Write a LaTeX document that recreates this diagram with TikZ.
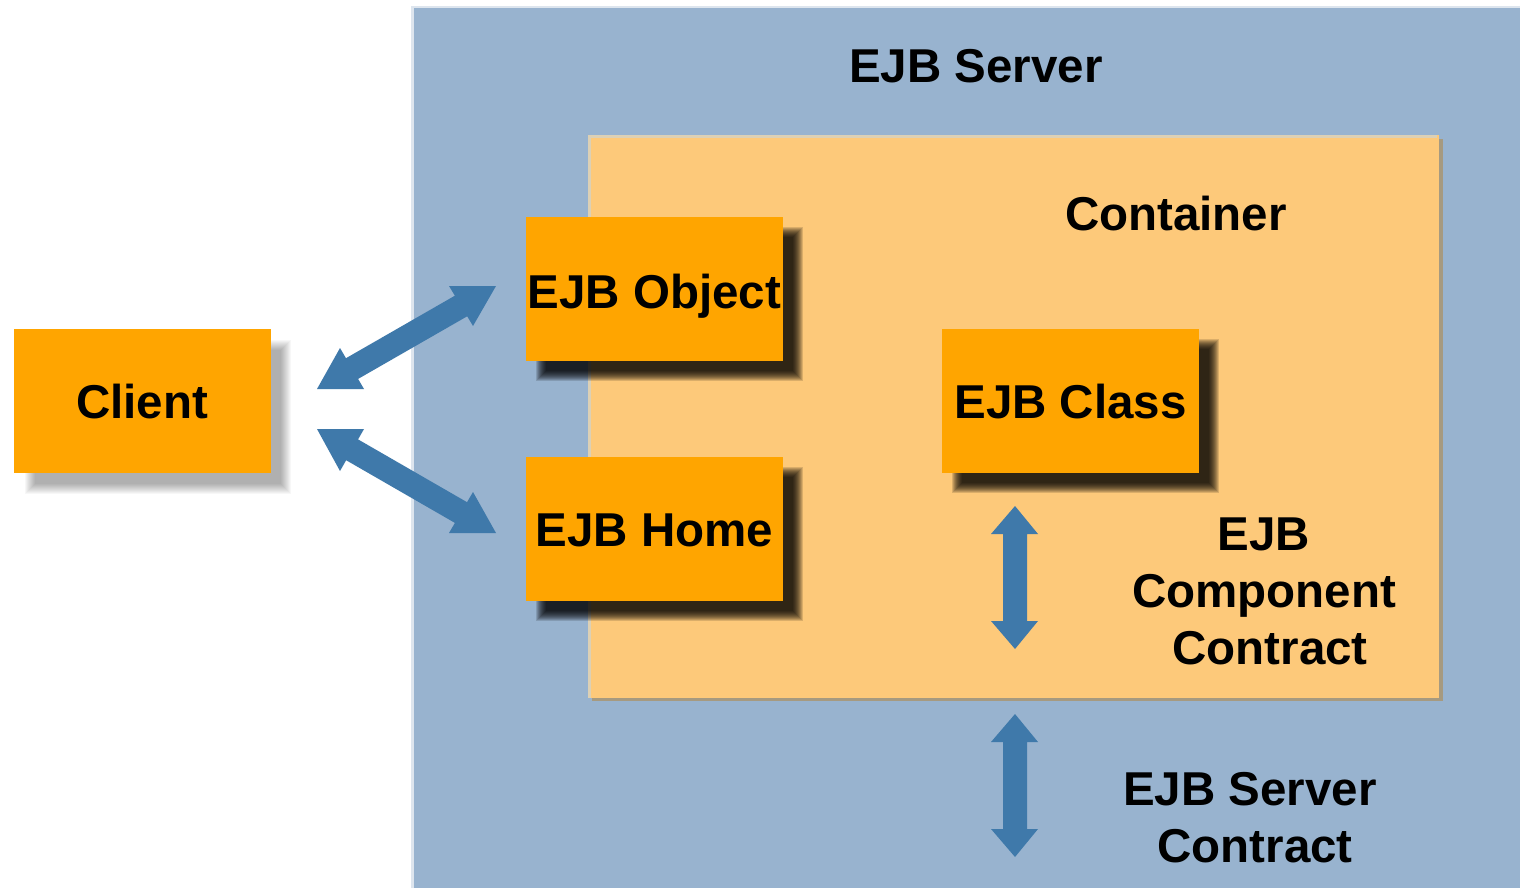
\documentclass[tikz,border=0pt]{standalone}
\usepackage{fontspec}
\setmainfont{Liberation Sans}
\definecolor{srvfill}{HTML}{98B3CF}
\definecolor{srvedge}{HTML}{DDE5EE}
\definecolor{contfill}{HTML}{FDC97A}
\definecolor{contlight}{HTML}{DCD0B5}
\definecolor{contdark}{HTML}{A69A80}
\definecolor{boxfill}{HTML}{FFA500}
\definecolor{arrowblue}{HTML}{3F79AA}
\newcommand\mysoftshadow[5]{%
  \foreach \i in {-5,...,5}{%
    \fill[black,opacity=#5] ({#1-(\i)},{#2-(\i)}) rectangle ({#3+(\i)},{#4+(\i)});}}
\tikzset{
  ejbbox/.style={fill=boxfill, draw=none, minimum width=257pt, minimum height=144pt,
    inner sep=0pt, text height=34pt, text depth=0pt, font=\fontsize{47.5}{57}\selectfont\bfseries},
  label/.style={font=\fontsize{47.5}{57}\selectfont\bfseries, inner sep=0pt, align=center},
  fatarrow/.style={fill=arrowblue, draw=none},
  fatshaft/.style={draw=arrowblue, line width=24pt, line cap=butt},
}
\begin{document}
\begin{tikzpicture}[x=1pt,y=-1pt]
\useasboundingbox (0,0) rectangle (1520,888);
\fill[white] (0,0) rectangle (1520,888);
% EJB server area
\fill[srvedge] (411,6) rectangle (1520,888);
\fill[srvfill] (414,8) rectangle (1520,888);
\node[label, anchor=base] (srvtitle) at (976,83) {EJB Server};
% container
\fill[contdark] (592,139) rectangle (1443,701);
\fill[contfill] (588,135) rectangle (1439,698);
\draw[contlight, line width=3pt] (589.5,698) -- (589.5,136.5) -- (1437,136.5);
\node[label, anchor=base] (conttitle) at (1176,230) {Container};
% shadows
\mysoftshadow{30}{345}{286}{489}{0.032}
\mysoftshadow{541}{232}{798}{376}{0.136}
\mysoftshadow{541}{472}{798}{616}{0.136}
\mysoftshadow{957}{344}{1214}{488}{0.136}
% boxes
\node[ejbbox] (client) at (142,401) {Client};
\node[ejbbox, text height=38pt] (obj) at (654.5,289) {EJB Object};
\node[ejbbox] (home) at (654.5,529) {EJB Home};
\node[ejbbox] (cls) at (1070.5,401) {EJB Class};
% diagonal arrows
\coordinate (a1) at (340.3,375.3);
\coordinate (a2) at (472.7,299.3);
\draw[fatshaft] (a1) -- (a2);
\fill[fatarrow] (317,389) -- (340,348) -- (364,389) -- cycle;
\fill[fatarrow] (496,286) -- (449,286) -- (473,326) -- cycle;
\coordinate (b1) at (340.3,443);
\coordinate (b2) at (472.7,519.3);
\draw[fatshaft] (b1) -- (b2);
\fill[fatarrow] (317,429) -- (364,429) -- (340,471) -- cycle;
\fill[fatarrow] (496,533) -- (449,533) -- (473,492) -- cycle;
% vertical arrows
\fill[fatarrow] (1015,506) -- (1038,534) -- (1027,534) -- (1027,621) -- (1038,621) -- (1015,649)
  -- (991,621) -- (1003,621) -- (1003,534) -- (991,534) -- cycle;
\fill[fatarrow] (1015,714) -- (1038,742) -- (1027,742) -- (1027,829) -- (1038,829) -- (1015,857)
  -- (991,829) -- (1003,829) -- (1003,742) -- (991,742) -- cycle;
% contract labels
\node[label, anchor=base] (ccline) at (1264,664) {EJB\\Component\\\hspace*{12pt}Contract};
\node[label, anchor=base] (scline) at (1250,862) {EJB Server\\\hspace*{10pt}Contract};
\end{tikzpicture}
\end{document}
